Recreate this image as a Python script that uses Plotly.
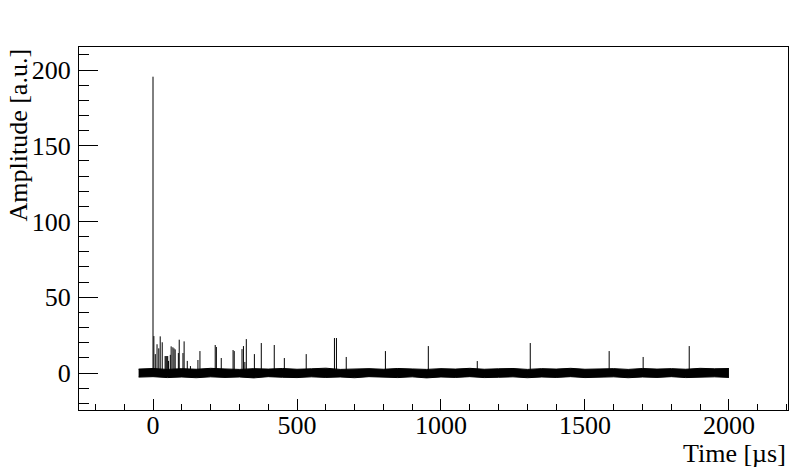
import plotly.graph_objects as go

# Noise envelope of the waveform
env_time = list(range(-50, 2001, 50))
env_upper = [2.6, 3.0, 2.4, 2.9, 2.5, 3.1, 2.7, 2.4, 2.9, 2.6, 3.0, 2.5,
             2.8, 3.2, 2.4, 2.6, 2.9, 2.5, 3.0, 2.7, 2.4, 2.9, 2.6, 3.1,
             2.5, 2.8, 3.0, 2.4, 2.9, 2.6, 3.1, 2.5, 2.8, 2.9, 2.4, 3.0,
             2.6, 2.9, 2.5, 3.1, 2.8, 3.0]
env_lower = [-2.7, -2.4, -3.0, -2.6, -3.1, -2.5, -2.9, -2.6, -3.2, -2.4, -2.8, -3.0,
             -2.5, -2.9, -2.6, -3.1, -2.4, -2.8, -3.0, -2.5, -3.2, -2.6, -2.9, -2.4,
             -3.0, -2.8, -2.5, -3.1, -2.6, -2.9, -2.4, -3.0, -2.8, -2.5, -3.1, -2.6,
             -2.9, -2.4, -3.0, -2.8, -2.5, -2.9]

# Pulses: time [us] and peak amplitude [a.u.]
pulse_time = [0, 3, 8, 14, 20, 25, 32, 42, 45, 48, 51, 54, 60, 63, 69, 73, 77,
              88, 91, 104, 108, 119, 130, 156, 163, 216, 220, 237, 278, 282,
              309, 314, 319, 324, 352, 376, 421, 456, 532, 630, 637, 671, 807,
              956, 1126, 1310, 1584, 1702, 1862]
pulse_amp = [195.6, 24.4, 12.5, 19.0, 16.3, 24.2, 20.3, 11.2, 11.2, 11.2, 11.2,
             8.0, 12.0, 17.6, 17.0, 16.3, 15.6, 13.2, 22.0, 13.2, 20.9, 8.0, 4.6,
             8.6, 14.5, 18.5, 17.2, 9.9, 15.2, 14.5, 15.8, 17.8, 7.3, 22.4, 12.5,
             19.8, 18.5, 9.9, 12.5, 23.1, 23.1, 10.6, 14.5, 17.8, 7.9, 19.8, 14.5,
             10.6, 17.8]

px, py = [], []
for t, a in zip(pulse_time, pulse_amp):
    px += [t, t, None]
    py += [0, a, None]

fig = go.Figure()
fig.add_trace(go.Scatter(x=env_time, y=env_lower, mode="lines",
                         line=dict(color="black", width=1), showlegend=False,
                         hoverinfo="skip"))
fig.add_trace(go.Scatter(x=env_time, y=env_upper, mode="lines", fill="tonexty",
                         fillcolor="black", line=dict(color="black", width=1),
                         showlegend=False, hoverinfo="skip"))
fig.add_trace(go.Scatter(x=px, y=py, mode="lines",
                         line=dict(color="black", width=1), showlegend=False))

font = dict(family="Liberation Serif", size=26, color="black")

fig.update_layout(
    width=796, height=472,
    margin=dict(l=79, r=8, t=47, b=62),
    paper_bgcolor="white", plot_bgcolor="white",
    font=font,
    xaxis=dict(range=[-257, 2205], dtick=500, tick0=0, ticks="inside", ticklen=11,
               tickwidth=1, tickcolor="black", showgrid=False, zeroline=False,
               showline=True, linecolor="black", linewidth=1, mirror=True,
               tickfont=font, ticklabelstandoff=-8,
               minor=dict(dtick=100, tick0=0, ticks="inside", ticklen=6,
                          tickcolor="black", tickwidth=1, showgrid=False)),
    yaxis=dict(range=[-24.4, 215.2], dtick=50, tick0=0, ticks="inside", ticklen=19,
               tickwidth=1, tickcolor="black", showgrid=False, zeroline=False,
               showline=True, linecolor="black", linewidth=1, mirror=True,
               tickfont=font, ticklabelstandoff=2,
               minor=dict(dtick=10, tick0=0, ticks="inside", ticklen=10,
                          tickcolor="black", tickwidth=1, showgrid=False)),
    annotations=[
        dict(text="Time [µs]", xref="paper", yref="paper", x=1, y=0,
             xanchor="right", yanchor="middle", yshift=-43, showarrow=False,
             font=font),
        dict(text="Amplitude [a.u.]", xref="paper", yref="paper", x=0, y=1,
             xanchor="center", yanchor="top", xshift=-61, textangle=-90,
             showarrow=False, font=font),
    ],
)

fig.write_html("out.html", config={"displayModeBar": False},
               post_script="document.body.style.margin='0';document.body.style.padding='0';")
